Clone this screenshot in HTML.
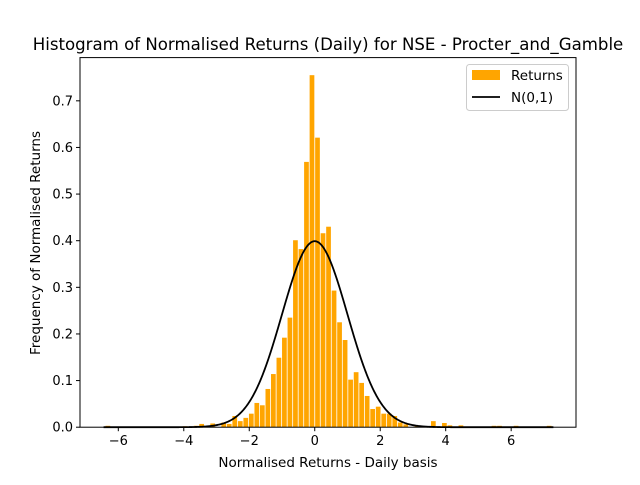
<!DOCTYPE html>
<html><head><meta charset="utf-8"><style>
body{margin:0;background:#fff;}
svg text{font-family:"DejaVu Sans","Liberation Sans",sans-serif;fill:#000;}
</style></head><body>
<svg id="chart" width="640" height="480" viewBox="0 0 640 480" xmlns="http://www.w3.org/2000/svg">
<rect width="640" height="480" fill="#fff"/>
<text x="328" y="50" text-anchor="middle" font-size="16.6">Histogram of Normalised Returns (Daily) for NSE - Procter_and_Gamble</text>
<g id="bars"></g>
<path id="curve" fill="none" stroke="#000" stroke-width="1.8"/>
<g id="axes"></g>
<text x="328" y="467" text-anchor="middle" font-size="13.5">Normalised Returns - Daily basis</text>
<text transform="translate(40,243) rotate(-90)" text-anchor="middle" font-size="13.5">Frequency of Normalised Returns</text>
<g>
<rect x="466.5" y="64.5" width="102" height="46" rx="3" fill="#fff" fill-opacity="0.8" stroke="#ccc"/>
<rect x="472" y="70" width="28" height="10" fill="orange"/>
<text x="511" y="80" font-size="13.5">Returns</text>
<line x1="472" y1="97" x2="500" y2="97" stroke="#000" stroke-width="1.8"/>
<text x="511" y="102" font-size="13.5">N(0,1)</text>
</g>
</svg>
<script>
const binWidth = 0.1685;
const binIndex = [-38,-24,-22,-21,-19,-17,-16,-15,-14,-13,-12,-11,-10,-9,-8,-7,-6,-5,-4,-3,-2,-1,0,1,2,3,4,5,6,7,8,9,10,11,12,13,14,15,16,18,20,21,23,24,26,32,33,36,42];
const freq = [0.003,0.002,0.003,0.007,0.008,0.01,0.007,0.024,0.013,0.02,0.029,0.052,0.047,0.082,0.114,0.149,0.192,0.235,0.401,0.382,0.569,0.755,0.621,0.416,0.43,0.293,0.225,0.187,0.102,0.118,0.095,0.067,0.039,0.044,0.029,0.029,0.024,0.01,0.006,0.002,0.002,0.013,0.009,0.004,0.004,0.003,0.003,0.003,0.003];
const xTicks = [-6,-4,-2,0,2,4,6];
const yTicks = [0,0.1,0.2,0.3,0.4,0.5,0.6,0.7];
const NS='http://www.w3.org/2000/svg';
const L=80,R=576,T=57.6,B=427.2;
const xmin=-7.17,xmax=7.98,ymax=0.7927;
const sx=v=>L+(v-xmin)/(xmax-xmin)*(R-L);
const sy=v=>B-v/ymax*(B-T);
const bars=document.getElementById('bars');
binIndex.forEach((k,i)=>{
  const x0=sx(k*binWidth),x1=sx((k+1)*binWidth);
  const r=document.createElementNS(NS,'rect');
  r.setAttribute('x',x0+0.4);r.setAttribute('width',Math.max(0.5,x1-x0-0.8));
  r.setAttribute('y',sy(freq[i]));r.setAttribute('height',B-sy(freq[i]));
  r.setAttribute('fill','orange');
  
  
  bars.appendChild(r);
});
let d='';
for(let v=-6.45;v<=7.3;v+=0.02){const y=Math.exp(-v*v/2)/Math.sqrt(2*Math.PI);d+=(d?'L':'M')+sx(v).toFixed(2)+','+sy(y).toFixed(2);}
document.getElementById('curve').setAttribute('d',d);
const ax=document.getElementById('axes');
function add(tag,attrs,txt){const e=document.createElementNS(NS,tag);for(const a in attrs)e.setAttribute(a,attrs[a]);if(txt!==undefined)e.textContent=txt;ax.appendChild(e);return e;}
const frame=add('rect',{x:L,y:T,width:R-L,height:B-T,fill:'none',stroke:'#000','stroke-width':1});


xTicks.forEach(t=>{
  const tl=add('line',{x1:sx(t),x2:sx(t),y1:B,y2:B+4,stroke:'#000'});
  
  
  const tx=add('text',{x:sx(t),y:B+18,'text-anchor':'middle','font-size':13},String(t).replace('-','\u2212'));
  
  
});
yTicks.forEach(t=>{
  const tl=add('line',{x1:L-4,x2:L,y1:sy(t),y2:sy(t),stroke:'#000'});
  
  
  const tx=add('text',{x:L-7,y:sy(t)+4.5,'text-anchor':'end','font-size':13},t.toFixed(1));
  
  
});
</script>
</body></html>
